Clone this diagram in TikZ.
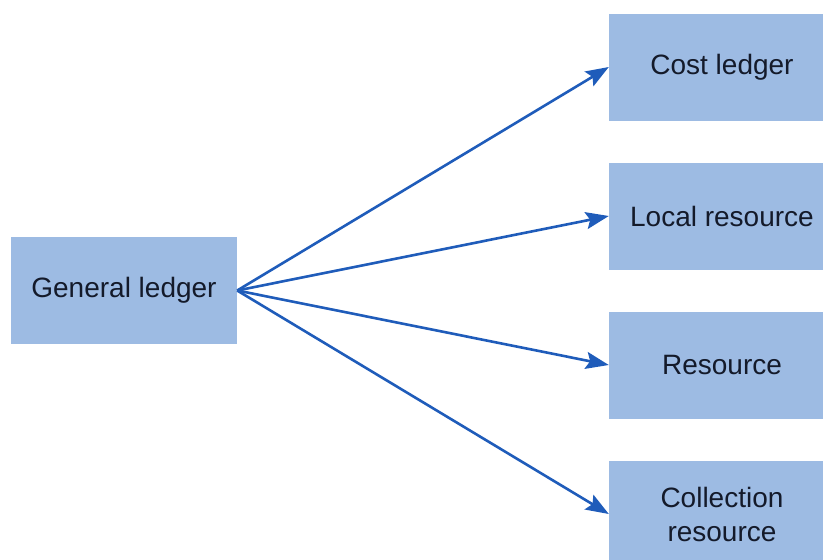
\documentclass[tikz,border=0pt]{standalone}
\usepackage{fontspec}
\setmainfont{Liberation Sans}
\usetikzlibrary{arrows.meta}
\definecolor{boxfill}{HTML}{9DBBE3}
\definecolor{linkblue}{HTML}{1F5CBA}
\definecolor{inktext}{HTML}{141A2A}
\begin{document}
\begin{tikzpicture}[x=1pt,y=-1pt,
  ledgerbox/.style={fill=boxfill, draw=none, minimum width=226pt, minimum height=107pt,
    inner sep=0pt, align=center, text=inktext, font=\fontsize{28}{34}\selectfont},
  link/.style={draw=linkblue, line width=2.6pt,
    -{Stealth[length=23pt,width=17pt,inset=4pt]}}]
  \useasboundingbox (0,0) rectangle (823,560);
  \node[ledgerbox] (gl) at (124,290.5) {General ledger};
  \node[ledgerbox] (cl) at (722,67) {Cost ledger};
  \node[ledgerbox] (lr) at (722,216) {Local resource};
  \node[ledgerbox] (rs) at (722,365) {Resource};
  \node[ledgerbox] (cr) at (722,514) {Collection\\resource};
  \draw[link] (gl.east) -- (cl.west);
  \draw[link] (gl.east) -- (lr.west);
  \draw[link] (gl.east) -- (rs.west);
  \draw[link] (gl.east) -- (cr.west);
\end{tikzpicture}
\end{document}
